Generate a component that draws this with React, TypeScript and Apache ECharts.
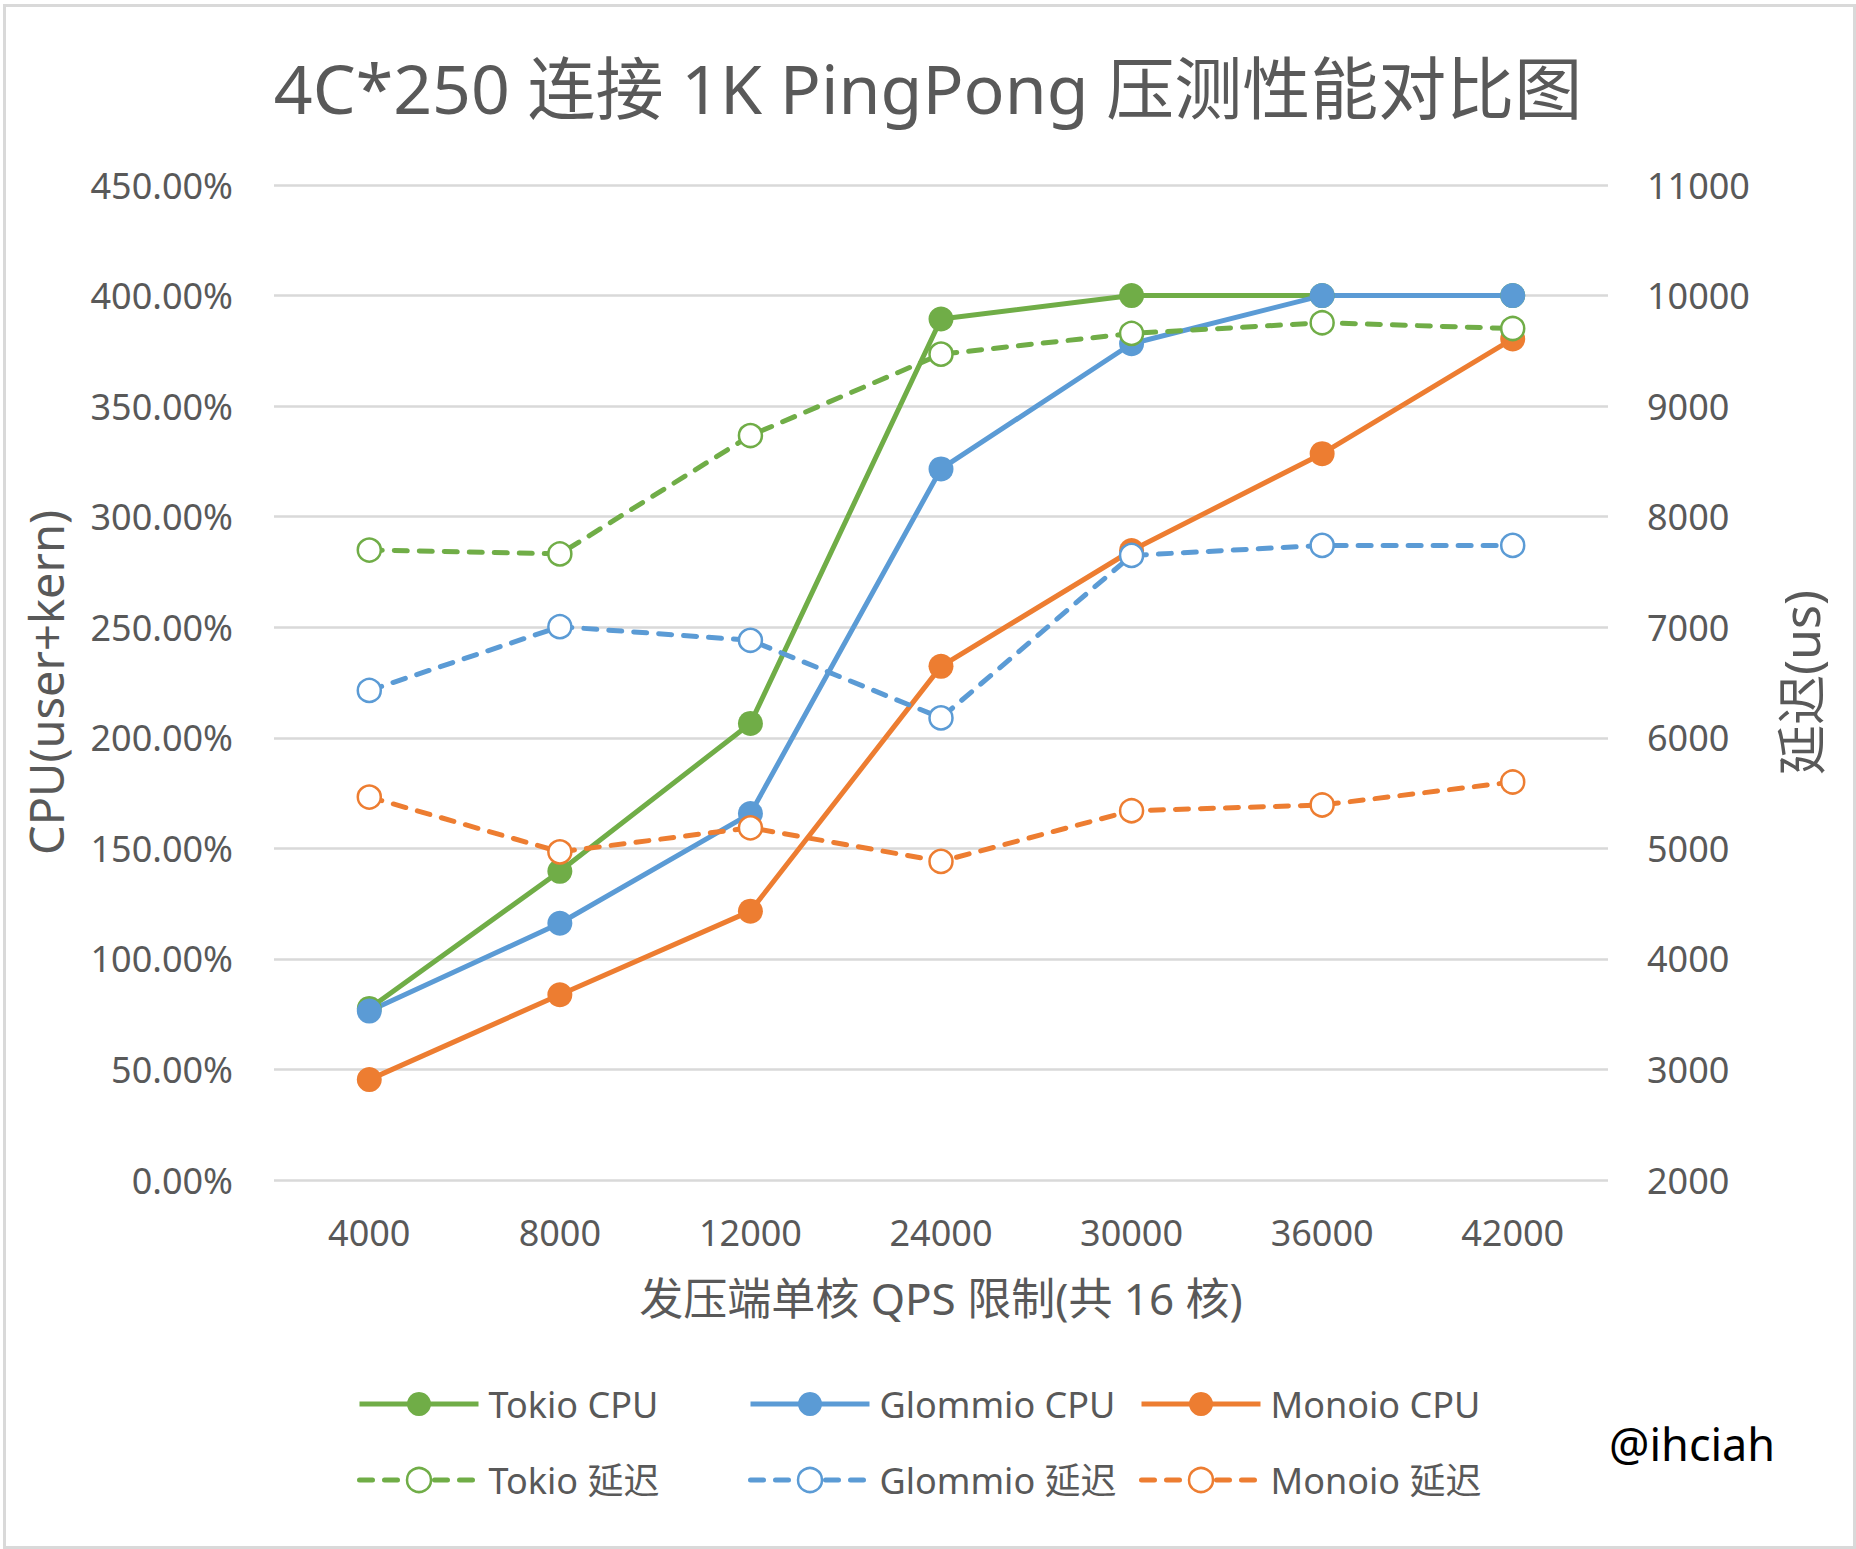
import React, { useEffect, useRef } from "react";
import * as echarts from "echarts";

const categories = ["4000", "8000", "12000", "24000", "30000", "36000", "42000"];
const tokioCpu = [77.6, 139.6, 206.5, 389.4, 400, 400, 400];
const glommioCpu = [76.4, 116.1, 165.7, 321.6, 378.2, 400, 400];
const monoioCpu = [45.4, 83.8, 121.6, 232.3, 284.7, 328.5, 380.4];
const tokioLat = [7698, 7663, 8734, 9470, 9657, 9754, 9702];
const glommioLat = [6428, 7005, 6882, 6180, 7649, 7740, 7740];
const monoioLat = [5464, 4968, 5186, 4882, 5340, 5392, 5600];

const seriesNames = ["Tokio CPU", "Glommio CPU", "Monoio CPU", "Tokio 延迟", "Glommio 延迟", "Monoio 延迟"];
const GREEN = "#70AD47";
const BLUE = "#5B9BD5";
const ORANGE = "#ED7D31";
const TEXT = "#595959";
const GRID = "#D9D9D9";
const FONT = '"Noto Sans", "Noto Sans CJK SC", sans-serif';

export default function App() {
  const ref = useRef<HTMLDivElement>(null);
  useEffect(() => {
    if (!ref.current) return;
    const chart = echarts.init(ref.current, null, { renderer: "svg" });
    const cpuSeries = (name: string, data: number[], color: string) => ({
      name,
      type: "line",
      yAxisIndex: 0,
      data,
      symbol: "circle",
      symbolSize: 25,
      lineStyle: { color, width: 5 },
      itemStyle: { color, borderWidth: 0 },
    });
    const latSeries = (name: string, data: number[], color: string) => ({
      name,
      type: "line",
      yAxisIndex: 1,
      data,
      symbol: "circle",
      symbolSize: 23,
      lineStyle: { color, width: 5, type: [13, 12], cap: "round" },
      itemStyle: { color: "#ffffff", borderColor: color, borderWidth: 2.5 },
    });
    const legendCols = [357, 748, 1139];
    const legendRows = [1386, 1462];
    const legends = seriesNames.map((n, i) => ({
      data: [n],
      left: legendCols[i % 3],
      top: legendRows[Math.floor(i / 3)],
      padding: 0,
      itemWidth: 119,
      itemHeight: 30,
      selectedMode: false,
      lineStyle: { width: 5 },
      itemStyle: { borderWidth: i >= 3 ? 2.5 : 0 },
      textStyle: { fontSize: 36, color: TEXT, fontFamily: FONT, padding: [0, 0, 0, 5] },
    }));
    chart.setOption({
      animation: false,
      backgroundColor: "#ffffff",
      textStyle: { fontFamily: FONT },
      title: {
        text: "4C*250 连接 1K PingPong 压测性能对比图",
        left: "center",
        top: 48,
        textStyle: { fontSize: 68, fontWeight: "normal", color: TEXT, fontFamily: FONT },
      },
      legend: legends,
      grid: { left: 274, right: 248, top: 185, bottom: 369, containLabel: false },
      xAxis: {
        type: "category",
        data: categories,
        axisTick: { show: false },
        axisLine: { show: false },
        axisLabel: { fontSize: 36, color: TEXT, margin: 34, fontFamily: FONT },
        name: "发压端单核 QPS 限制(共 16 核)",
        nameLocation: "middle",
        nameGap: 96,
        nameTextStyle: { fontSize: 44, color: TEXT, fontFamily: FONT },
      },
      yAxis: [
        {
          type: "value",
          min: 0,
          max: 450,
          interval: 50,
          axisLine: { show: false },
          axisTick: { show: false },
          axisLabel: {
            fontSize: 36,
            color: TEXT,
            margin: 41,
            fontFamily: FONT,
            formatter: (v: number) => v.toFixed(2) + "%",
          },
          splitLine: { show: true, lineStyle: { color: GRID, width: 2.5 } },
          name: "CPU(user+kern)",
          nameLocation: "middle",
          nameRotate: 90,
          nameGap: 205,
          nameTextStyle: { fontSize: 47, color: TEXT, fontFamily: FONT },
        },
        {
          type: "value",
          min: 2000,
          max: 11000,
          interval: 1000,
          position: "right",
          axisLine: { show: false },
          axisTick: { show: false },
          axisLabel: {
            fontSize: 36,
            color: TEXT,
            margin: 39,
            fontFamily: FONT,
            formatter: (v: number) => String(v),
          },
          splitLine: { show: false },
          name: "延迟(us)",
          nameLocation: "middle",
          nameRotate: 90,
          nameGap: 168,
          nameTextStyle: { fontSize: 50, color: TEXT, fontFamily: FONT },
        },
      ],
      series: [
        cpuSeries(seriesNames[0], tokioCpu, GREEN),
        cpuSeries(seriesNames[1], glommioCpu, BLUE),
        cpuSeries(seriesNames[2], monoioCpu, ORANGE),
        latSeries(seriesNames[3], tokioLat, GREEN),
        latSeries(seriesNames[4], glommioLat, BLUE),
        latSeries(seriesNames[5], monoioLat, ORANGE),
      ],
      graphic: [
        {
          type: "rect",
          left: 2,
          top: 3,
          shape: { width: 1850, height: 1542 },
          style: { fill: "none", stroke: GRID, lineWidth: 3 },
          silent: true,
        },
        {
          type: "text",
          left: 1609,
          top: 1421,
          style: { text: "@ihciah", fontSize: 45, fill: "#000000", fontFamily: FONT },
        },
      ],
    });
    return () => chart.dispose();
  }, []);
  return (
    <div
      ref={ref}
      style={{ position: "absolute", left: 0, top: 0, width: 1856, height: 1549 }}
    />
  );
}
